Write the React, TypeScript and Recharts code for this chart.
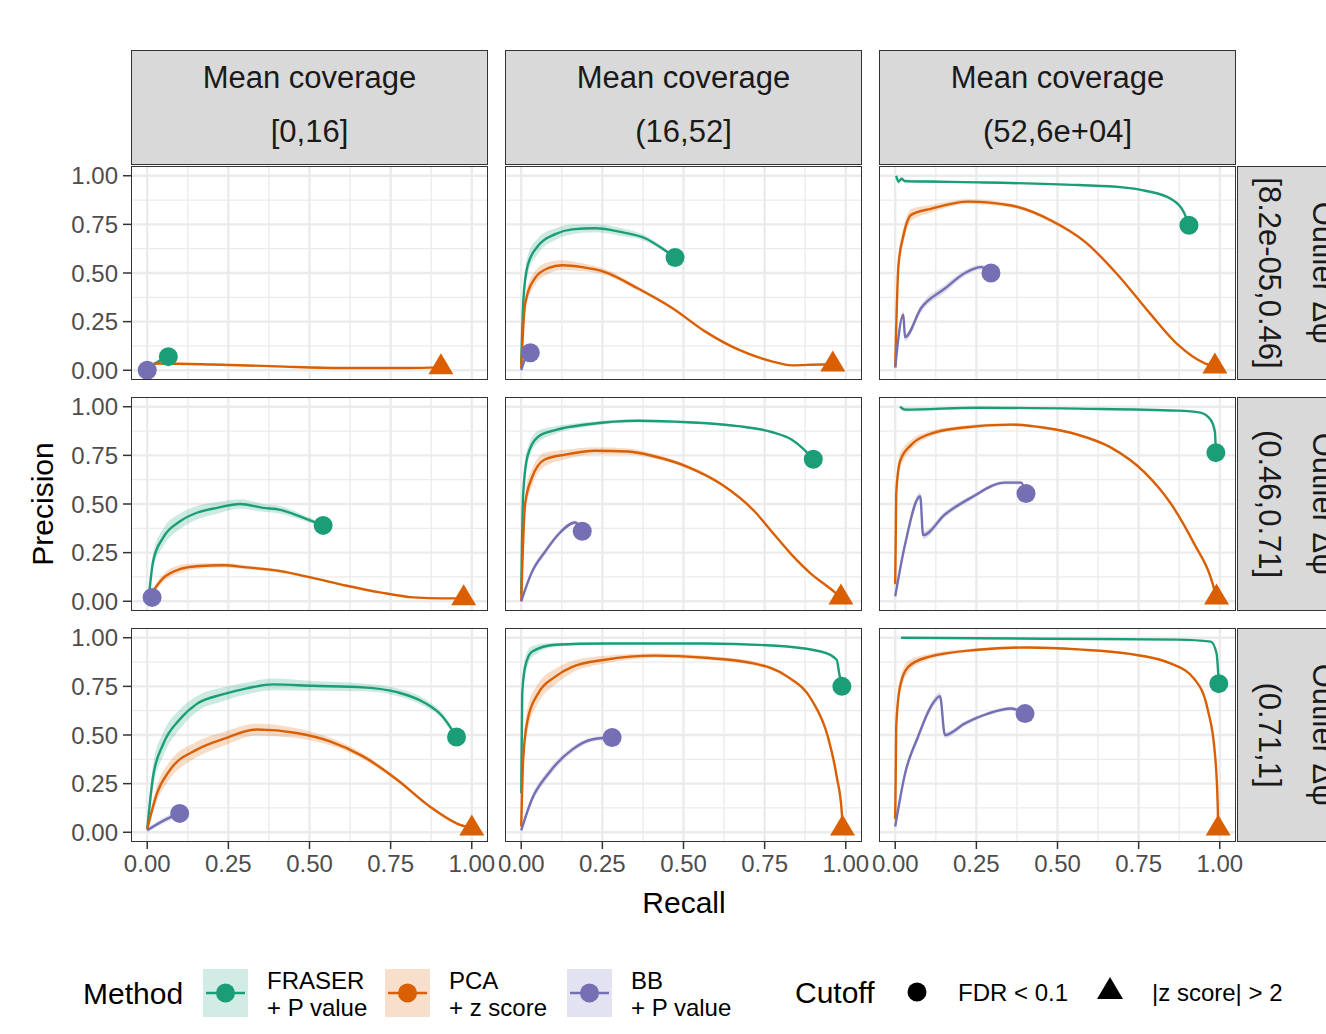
import { Area, CartesianGrid, ComposedChart, Line, Scatter, XAxis, YAxis } from 'recharts';

// facet labels
const coverageBins = ['[0,16]', '(16,52]', '(52,6e+04]'];
const deltaBins = ['[8.2e-05,0.46]', '(0.46,0.71]', '(0.71,1]'];
const axisTicks = [0, 0.25, 0.5, 0.75, 1];
const minorTicks = [0.125, 0.375, 0.625, 0.875];

// [recall, precision, ribbon half-width]; last point = cutoff marker
type Pt = [number, number, number];

const fraser_d1_c1: Pt[] = [[0, 0, 0.01], [0.02, 0.03, 0.01], [0.04, 0.05, 0.01], [0.065, 0.07, 0.01]];
const pca_d1_c1: Pt[] = [[0, 0.02, 0.005], [0.03, 0.035, 0.005], [0.2, 0.03, 0.005], [0.4, 0.02, 0.004], [0.6, 0.012, 0.003], [0.8, 0.012, 0.003], [0.905, 0.015, 0.003]];
const bb_d1_c1: Pt[] = [[0, 0, 0]];

const fraser_d1_c2: Pt[] = [[0, 0.03, 0.02], [0.007, 0.37, 0.05], [0.02, 0.54, 0.05], [0.052, 0.64, 0.04], [0.105, 0.7, 0.03], [0.157, 0.724, 0.025], [0.228, 0.73, 0.02], [0.31, 0.71, 0.02], [0.38, 0.68, 0.015], [0.44, 0.62, 0.01], [0.474, 0.58, 0.01]];
const pca_d1_c2: Pt[] = [[0, 0.01, 0.01], [0.012, 0.34, 0.04], [0.043, 0.475, 0.035], [0.083, 0.525, 0.03], [0.126, 0.54, 0.025], [0.188, 0.53, 0.02], [0.258, 0.505, 0.015], [0.36, 0.42, 0.01], [0.465, 0.32, 0.008], [0.566, 0.2, 0.006], [0.668, 0.107, 0.005], [0.772, 0.046, 0.004], [0.834, 0.025, 0.003], [0.926, 0.03, 0.003], [0.96, 0.03, 0.003]];
const bb_d1_c2: Pt[] = [[0, 0, 0.01], [0.01, 0.05, 0.01], [0.028, 0.09, 0.01]];

const fraser_d1_c3: Pt[] = [[0.003, 1.0, 0.01], [0.01, 0.97, 0.015], [0.02, 0.985, 0.01], [0.03, 0.972, 0.01], [0.1, 0.97, 0.008], [0.255, 0.966, 0.005], [0.563, 0.952, 0.004], [0.7, 0.94, 0.004], [0.77, 0.923, 0.004], [0.85, 0.88, 0.004], [0.89, 0.81, 0.004], [0.905, 0.745, 0.004]];
const pca_d1_c3: Pt[] = [[0, 0.015, 0.01], [0.01, 0.54, 0.05], [0.025, 0.69, 0.04], [0.05, 0.8, 0.03], [0.11, 0.83, 0.02], [0.225, 0.867, 0.012], [0.357, 0.847, 0.01], [0.48, 0.77, 0.01], [0.585, 0.66, 0.008], [0.686, 0.49, 0.006], [0.788, 0.286, 0.005], [0.87, 0.133, 0.004], [0.954, 0.036, 0.003], [0.985, 0.02, 0.003]];
const bb_d1_c3: Pt[] = [[0, 0.015, 0.01], [0.025, 0.286, 0.02], [0.03, 0.17, 0.02], [0.08, 0.32, 0.02], [0.153, 0.42, 0.02], [0.215, 0.5, 0.015], [0.265, 0.53, 0.012], [0.295, 0.5, 0.01]];

const fraser_d2_c1: Pt[] = [[0.005, 0.02, 0.02], [0.018, 0.205, 0.04], [0.05, 0.33, 0.045], [0.1, 0.41, 0.04], [0.153, 0.455, 0.035], [0.215, 0.48, 0.03], [0.286, 0.5, 0.025], [0.357, 0.48, 0.02], [0.41, 0.47, 0.02], [0.48, 0.43, 0.015], [0.542, 0.39, 0.01]];
const pca_d2_c1: Pt[] = [[0.005, 0.02, 0.01], [0.05, 0.12, 0.02], [0.1, 0.165, 0.02], [0.153, 0.18, 0.015], [0.235, 0.185, 0.012], [0.307, 0.174, 0.01], [0.41, 0.155, 0.008], [0.51, 0.12, 0.006], [0.615, 0.08, 0.005], [0.717, 0.046, 0.004], [0.82, 0.02, 0.003], [0.91, 0.015, 0.003], [0.975, 0.015, 0.003]];
const bb_d2_c1: Pt[] = [[0, 0, 0.005], [0.015, 0.02, 0.005]];

const fraser_d2_c2: Pt[] = [[0, 0.036, 0.02], [0.006, 0.55, 0.05], [0.02, 0.75, 0.04], [0.052, 0.846, 0.03], [0.105, 0.88, 0.02], [0.207, 0.91, 0.012], [0.36, 0.928, 0.008], [0.514, 0.92, 0.006], [0.668, 0.9, 0.005], [0.772, 0.87, 0.005], [0.834, 0.83, 0.004], [0.865, 0.79, 0.004], [0.9, 0.73, 0.004]];
const pca_d2_c2: Pt[] = [[0, 0, 0.01], [0.012, 0.5, 0.05], [0.033, 0.635, 0.045], [0.074, 0.73, 0.035], [0.135, 0.754, 0.025], [0.228, 0.774, 0.018], [0.33, 0.77, 0.015], [0.412, 0.744, 0.012], [0.514, 0.69, 0.01], [0.618, 0.6, 0.008], [0.72, 0.46, 0.006], [0.771, 0.36, 0.005], [0.833, 0.24, 0.004], [0.894, 0.14, 0.004], [0.955, 0.062, 0.003], [0.985, 0.02, 0.003]];
const bb_d2_c2: Pt[] = [[0, 0, 0.01], [0.033, 0.15, 0.015], [0.074, 0.256, 0.015], [0.114, 0.343, 0.012], [0.166, 0.405, 0.01], [0.188, 0.36, 0.01]];

const fraser_d2_c3: Pt[] = [[0.015, 1.0, 0.01], [0.03, 0.985, 0.01], [0.255, 0.995, 0.004], [0.563, 0.99, 0.003], [0.87, 0.98, 0.003], [0.94, 0.97, 0.003], [0.972, 0.933, 0.003], [0.985, 0.87, 0.003], [0.988, 0.764, 0.003]];
const pca_d2_c3: Pt[] = [[0, 0.087, 0.02], [0.003, 0.55, 0.05], [0.015, 0.72, 0.04], [0.05, 0.805, 0.025], [0.1, 0.856, 0.015], [0.204, 0.892, 0.01], [0.357, 0.908, 0.008], [0.46, 0.892, 0.006], [0.563, 0.856, 0.005], [0.665, 0.79, 0.005], [0.77, 0.66, 0.004], [0.85, 0.5, 0.004], [0.923, 0.29, 0.003], [0.972, 0.123, 0.003], [0.99, 0.02, 0.003]];
const bb_d2_c3: Pt[] = [[0, 0.026, 0.015], [0.03, 0.29, 0.02], [0.077, 0.54, 0.02], [0.086, 0.34, 0.02], [0.153, 0.446, 0.015], [0.234, 0.533, 0.012], [0.338, 0.61, 0.01], [0.388, 0.61, 0.01], [0.403, 0.554, 0.01]];

const fraser_d3_c1: Pt[] = [[0, 0.015, 0.02], [0.018, 0.287, 0.06], [0.05, 0.456, 0.06], [0.1, 0.58, 0.05], [0.153, 0.66, 0.04], [0.235, 0.71, 0.035], [0.307, 0.74, 0.03], [0.388, 0.76, 0.03], [0.51, 0.753, 0.025], [0.665, 0.745, 0.02], [0.77, 0.72, 0.02], [0.85, 0.67, 0.02], [0.91, 0.595, 0.015], [0.953, 0.49, 0.01]];
const pca_d3_c1: Pt[] = [[0, 0.015, 0.01], [0.03, 0.2, 0.04], [0.07, 0.32, 0.045], [0.153, 0.425, 0.04], [0.235, 0.48, 0.035], [0.338, 0.528, 0.03], [0.46, 0.51, 0.025], [0.563, 0.467, 0.02], [0.665, 0.39, 0.015], [0.77, 0.27, 0.01], [0.87, 0.133, 0.008], [0.953, 0.046, 0.005], [1.0, 0.02, 0.003]];
const bb_d3_c1: Pt[] = [[0, 0.01, 0.01], [0.05, 0.06, 0.015], [0.1, 0.097, 0.015]];

const fraser_d3_c2: Pt[] = [[0, 0.2, 0.03], [0.003, 0.71, 0.06], [0.012, 0.85, 0.05], [0.033, 0.928, 0.03], [0.105, 0.964, 0.01], [0.258, 0.97, 0.006], [0.566, 0.97, 0.004], [0.772, 0.96, 0.004], [0.926, 0.928, 0.004], [0.972, 0.887, 0.004], [0.98, 0.815, 0.004], [0.988, 0.75, 0.004]];
const pca_d3_c2: Pt[] = [[0, 0.03, 0.02], [0.006, 0.374, 0.06], [0.02, 0.58, 0.06], [0.052, 0.713, 0.05], [0.105, 0.8, 0.04], [0.157, 0.85, 0.03], [0.258, 0.887, 0.02], [0.412, 0.908, 0.012], [0.566, 0.897, 0.01], [0.72, 0.867, 0.01], [0.82, 0.8, 0.008], [0.895, 0.68, 0.006], [0.945, 0.49, 0.005], [0.972, 0.287, 0.004], [0.988, 0.097, 0.003], [0.99, 0.02, 0.003]];
const bb_d3_c2: Pt[] = [[0, 0.01, 0.015], [0.033, 0.17, 0.02], [0.083, 0.3, 0.02], [0.157, 0.425, 0.015], [0.218, 0.477, 0.012], [0.28, 0.487, 0.01]];

const fraser_d3_c3: Pt[] = [[0.018, 1.0, 0.003], [0.46, 0.995, 0.003], [0.87, 0.99, 0.003], [0.972, 0.98, 0.003], [0.99, 0.92, 0.003], [0.997, 0.764, 0.003]];
const pca_d3_c3: Pt[] = [[0, 0.067, 0.02], [0.003, 0.54, 0.05], [0.015, 0.75, 0.04], [0.04, 0.85, 0.03], [0.1, 0.9, 0.015], [0.255, 0.938, 0.008], [0.41, 0.95, 0.006], [0.563, 0.94, 0.005], [0.717, 0.918, 0.005], [0.85, 0.867, 0.004], [0.923, 0.785, 0.004], [0.963, 0.63, 0.003], [0.985, 0.405, 0.003], [0.994, 0.118, 0.003], [0.995, 0.02, 0.003]];
const bb_d3_c3: Pt[] = [[0, 0.03, 0.015], [0.03, 0.3, 0.02], [0.07, 0.49, 0.02], [0.11, 0.646, 0.02], [0.138, 0.7, 0.02], [0.153, 0.5, 0.015], [0.215, 0.56, 0.012], [0.286, 0.61, 0.01], [0.357, 0.636, 0.01], [0.4, 0.61, 0.01]];

// rows = outlier delta psi bins, cols = coverage bins, series = [FRASER, PCA, BB]
const panels: Pt[][][][] = [
  [[fraser_d1_c1, pca_d1_c1, bb_d1_c1], [fraser_d1_c2, pca_d1_c2, bb_d1_c2], [fraser_d1_c3, pca_d1_c3, bb_d1_c3]],
  [[fraser_d2_c1, pca_d2_c1, bb_d2_c1], [fraser_d2_c2, pca_d2_c2, bb_d2_c2], [fraser_d2_c3, pca_d2_c3, bb_d2_c3]],
  [[fraser_d3_c1, pca_d3_c1, bb_d3_c1], [fraser_d3_c2, pca_d3_c2, bb_d3_c2], [fraser_d3_c3, pca_d3_c3, bb_d3_c3]],
];

const methodLabels = [['FRASER', '+ P value'], ['PCA', '+ z score'], ['BB', '+ P value']];
const methodColors = ['#1B9E77', '#D95F02', '#7570B3'];
const methodMarkers = ['circle', 'triangle', 'circle'];
const cutoffLabels = ['FDR < 0.1', '|z score| > 2'];

const FONT = '"Liberation Sans", Arial, Helvetica, sans-serif';
const colX = [131, 505, 879];
const rowY = [166, 397, 628];
const PW = 357;
const PH = 214;
const Y_W = 60;
const X_H = 45;

const toRows = (pts: Pt[]) =>
  pts.map(([r, p, b]) => ({ r, p, band: [Math.max(0, p - b), Math.min(1, p + b)] }));

const markerShape = (kind: string, color: string) => (props: any) => {
  const { cx, cy } = props;
  if (kind === 'circle') return <circle cx={cx} cy={cy} r={9.5} fill={color} />;
  return <path d={`M${cx},${cy - 14}L${cx + 12.5},${cy + 7}L${cx - 12.5},${cy + 7}Z`} fill={color} />;
};

function Panel({ row, col }: { row: number; col: number }) {
  const showY = col === 0;
  const showX = row === 2;
  const width = PW + (showY ? Y_W : 0);
  const height = PH + (showX ? X_H : 0);
  const series = panels[row][col].map(toRows);
  return (
    <div style={{ position: 'absolute', left: colX[col] - (showY ? Y_W : 0), top: rowY[row], width, height }}>
      <ComposedChart width={width} height={height} margin={{ top: 0, right: 0, bottom: 0, left: 0 }}>
        <CartesianGrid stroke="#EBEBEB" strokeWidth={1.3} horizontalValues={minorTicks} verticalValues={minorTicks} />
        <CartesianGrid stroke="#EBEBEB" strokeWidth={2.4} horizontalValues={axisTicks} verticalValues={axisTicks} />
        <XAxis
          type="number"
          dataKey="r"
          domain={[-0.05, 1.05]}
          ticks={axisTicks}
          tickFormatter={(v) => Number(v).toFixed(2)}
          hide={!showX}
          height={X_H}
          axisLine={false}
          tickSize={7}
          tickMargin={6}
          tickLine={{ stroke: '#333333', strokeWidth: 1.5 }}
          tick={{ fill: '#4D4D4D', fontSize: 24, fontFamily: FONT }}
          interval={0}
        />
        <YAxis
          type="number"
          dataKey="p"
          domain={[-0.05, 1.05]}
          ticks={axisTicks}
          tickFormatter={(v) => Number(v).toFixed(2)}
          hide={!showY}
          width={Y_W}
          axisLine={false}
          tickSize={8}
          tickMargin={5}
          tickLine={{ stroke: '#333333', strokeWidth: 1.5 }}
          tick={{ fill: '#4D4D4D', fontSize: 24, fontFamily: FONT }}
          interval={0}
        />
        {series.map((d, i) => (
          <Area
            key={`band${i}`}
            data={d}
            dataKey="band"
            type="monotoneX"
            stroke="none"
            fill={methodColors[i]}
            fillOpacity={0.22}
            dot={false}
            activeDot={false}
            isAnimationActive={false}
          />
        ))}
        {series.map((d, i) => (
          <Line
            key={`line${i}`}
            data={d}
            dataKey="p"
            type="monotoneX"
            stroke={methodColors[i]}
            strokeWidth={2.4}
            dot={false}
            activeDot={false}
            isAnimationActive={false}
          />
        ))}
        {series.map((d, i) => (
          <Scatter
            key={`mark${i}`}
            data={[d[d.length - 1]]}
            dataKey="p"
            shape={markerShape(methodMarkers[i], methodColors[i])}
            isAnimationActive={false}
          />
        ))}
      </ComposedChart>
      <div
        style={{
          position: 'absolute',
          left: showY ? Y_W : 0,
          top: 0,
          width: PW,
          height: PH,
          border: '1.5px solid #333333',
          boxSizing: 'border-box',
          pointerEvents: 'none',
        }}
      />
    </div>
  );
}

const stripStyle: any = {
  position: 'absolute',
  background: '#D9D9D9',
  border: '1.5px solid #333333',
  boxSizing: 'border-box',
  fontFamily: FONT,
  color: '#1A1A1A',
};

export default function App() {
  return (
    <div
      style={{
        position: 'absolute',
        left: 0,
        top: 0,
        width: 1326,
        height: 1034,
        overflow: 'hidden',
        background: '#FFFFFF',
        fontFamily: FONT,
      }}
    >
      <style>{'.recharts-surface, .recharts-wrapper { overflow: visible !important; }'}</style>
      {coverageBins.map((lab, c) => (
        <div key={lab} style={{ ...stripStyle, left: colX[c], top: 50, width: PW, height: 115 }}>
          <div style={{ position: 'absolute', left: 0, right: 0, top: 9, textAlign: 'center', fontSize: 31, lineHeight: '36px' }}>
            Mean coverage
          </div>
          <div style={{ position: 'absolute', left: 0, right: 0, top: 63, textAlign: 'center', fontSize: 31, lineHeight: '36px' }}>
            {lab}
          </div>
        </div>
      ))}

      {deltaBins.map((lab, r) => (
        <div key={lab} style={{ ...stripStyle, left: 1237, top: rowY[r], width: 115, height: PH }}>
          <svg width={115} height={PH} style={{ position: 'absolute', left: -1.5, top: -1.5, overflow: 'visible' }}>
            <text
              transform={`translate(${22},${PH / 2}) rotate(90)`}
              textAnchor="middle"
              fontSize={31}
              fontFamily={FONT}
              fill="#1A1A1A"
            >
              {lab}
            </text>
            <text
              transform={`translate(${76},${PH / 2}) rotate(90)`}
              textAnchor="middle"
              fontSize={31}
              fontFamily={FONT}
              fill="#1A1A1A"
            >
              Outlier Δψ
            </text>
          </svg>
        </div>
      ))}

      {[0, 1, 2].map((r) => [0, 1, 2].map((c) => <Panel key={`${r}-${c}`} row={r} col={c} />))}

      <svg width={1326} height={1034} style={{ position: 'absolute', left: 0, top: 0, pointerEvents: 'none' }}>
        <text x={684} y={913} textAnchor="middle" fontSize={30} fontFamily={FONT} fill="#000">
          Recall
        </text>
        <text transform="translate(53,504) rotate(-90)" textAnchor="middle" fontSize={30} fontFamily={FONT} fill="#000">
          Precision
        </text>

        <text x={83} y={1004} fontSize={30} fontFamily={FONT} fill="#000">
          Method
        </text>
        {methodLabels.map((lines, i) => {
          const kx = 203 + i * 182;
          return (
            <g key={lines[0]}>
              <rect x={kx} y={969} width={45} height={48} fill={methodColors[i]} fillOpacity={0.2} />
              <line x1={kx + 3} x2={kx + 42} y1={993} y2={993} stroke={methodColors[i]} strokeWidth={2.4} />
              <circle cx={kx + 22.5} cy={993} r={9.5} fill={methodColors[i]} />
              <text x={kx + 64} y={989} fontSize={24} fontFamily={FONT} fill="#000">
                {lines[0]}
              </text>
              <text x={kx + 64} y={1016} fontSize={24} fontFamily={FONT} fill="#000">
                {lines[1]}
              </text>
            </g>
          );
        })}

        <text x={795} y={1003} fontSize={30} fontFamily={FONT} fill="#000">
          Cutoff
        </text>
        <circle cx={917} cy={992} r={9.5} fill="#000" />
        <text x={958} y={1001} fontSize={24} fontFamily={FONT} fill="#000">
          {cutoffLabels[0]}
        </text>
        <path d="M1110,977L1123,999L1097,999Z" fill="#000" />
        <text x={1152} y={1001} fontSize={24} fontFamily={FONT} fill="#000">
          {cutoffLabels[1]}
        </text>
      </svg>
    </div>
  );
}
